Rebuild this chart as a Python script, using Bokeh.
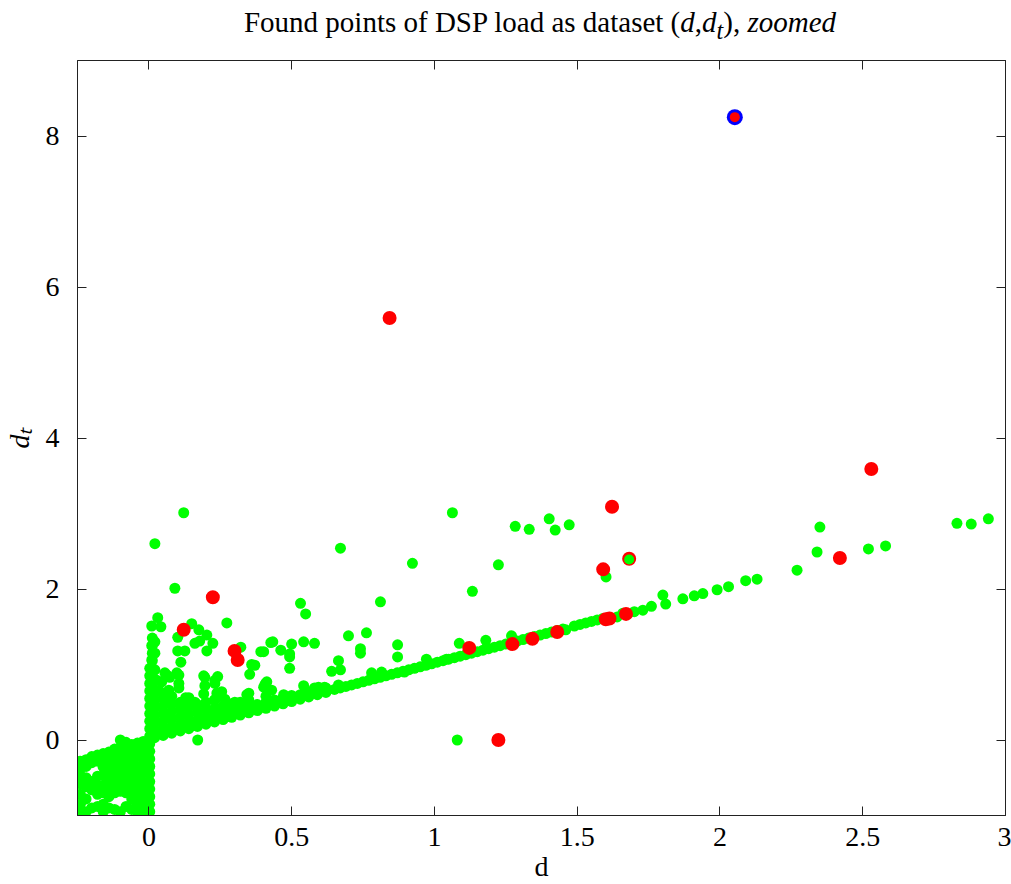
from bokeh.plotting import figure
from bokeh.models import LinearAxis, FixedTicker, Div
from bokeh.layouts import column
from bokeh.embed import file_html
from bokeh.resources import INLINE

# ---------------- data ----------------
x_ticks = [0, 0.5, 1, 1.5, 2, 2.5, 3]
x_tick_labels = ["0", "0.5", "1", "1.5", "2", "2.5", "3"]
y_ticks = [0, 2, 4, 6, 8]
y_tick_labels = ["0", "2", "4", "6", "8"]

title_html = ("Found points of DSP load as dataset (<i>d</i>,<i>d</i><sub><i>t</i></sub>), "
              "<i>zoomed</i>")
x_label = "d"
y_label = "d\u209c"

# dense cluster with d < 0
green_negative = [
    (-0.24, -0.28), (-0.24, -0.38), (-0.24, -0.47), (-0.24, -0.58), (-0.24, -0.72), (-0.24, -0.85), (-0.24, -0.93),
    (-0.22, -0.26), (-0.22, -0.35), (-0.22, -0.50), (-0.22, -0.62), (-0.22, -0.78), (-0.22, -0.95),
    (-0.20, -0.22), (-0.20, -0.30), (-0.20, -0.55), (-0.20, -0.66), (-0.20, -0.90),
    (-0.18, -0.20), (-0.18, -0.28), (-0.18, -0.48), (-0.18, -0.60), (-0.18, -0.72), (-0.18, -0.88),
    (-0.16, -0.18), (-0.16, -0.27), (-0.16, -0.36), (-0.16, -0.47), (-0.16, -0.60), (-0.16, -0.70), (-0.16, -0.85), (-0.16, -0.95),
    (-0.14, -0.16), (-0.14, -0.25), (-0.14, -0.33), (-0.14, -0.45), (-0.14, -0.55), (-0.14, -0.67), (-0.14, -0.75), (-0.14, -0.90),
    (-0.12, -0.12), (-0.12, -0.22), (-0.12, -0.32), (-0.12, -0.42), (-0.12, -0.52), (-0.12, -0.62), (-0.12, -0.70), (-0.12, -0.92),
    (-0.10, 0.00), (-0.10, -0.10), (-0.10, -0.20), (-0.10, -0.30), (-0.10, -0.42), (-0.10, -0.55), (-0.10, -0.68), (-0.10, -0.95),
    (-0.08, -0.03), (-0.08, -0.12), (-0.08, -0.25), (-0.08, -0.38), (-0.08, -0.50), (-0.08, -0.60), (-0.08, -0.70), (-0.08, -0.88),
    (-0.06, -0.06), (-0.06, -0.15), (-0.06, -0.28), (-0.06, -0.40), (-0.06, -0.52), (-0.06, -0.65), (-0.06, -0.78), (-0.06, -0.92),
    (-0.04, -0.04), (-0.04, -0.12), (-0.04, -0.22), (-0.04, -0.35), (-0.04, -0.48), (-0.04, -0.60), (-0.04, -0.72), (-0.04, -0.85), (-0.04, -0.95),
    (-0.02, -0.02), (-0.02, -0.10), (-0.02, -0.20), (-0.02, -0.32), (-0.02, -0.44), (-0.02, -0.56), (-0.02, -0.68), (-0.02, -0.80), (-0.02, -0.93), (-0.02, -0.99),
]

# vertical strip at d = 0
green_strip = [
    (0.003, -0.95), (0.003, -0.85), (0.003, -0.75), (0.003, -0.65), (0.003, -0.55), (0.003, -0.45),
    (0.003, -0.35), (0.003, -0.25), (0.003, -0.15), (0.003, -0.05), (0.003, 0.05), (0.003, 0.15),
    (0.003, 0.25), (0.003, 0.35), (0.003, 0.45), (0.003, 0.55), (0.003, 0.65), (0.003, 0.75),
    (0.003, 0.85), (0.003, 0.95),
    (0.012, 0.05), (0.012, 0.15), (0.012, 0.25), (0.012, 0.35), (0.012, 0.45), (0.012, 0.55),
    (0.012, 0.65), (0.012, 0.75), (0.012, 0.85), (0.012, 0.95), (0.012, 1.05), (0.012, 1.15),
    (0.012, 1.25), (0.012, 1.35),
]

# filled wedge just right of d = 0
green_wedge = [
    (0.02, 0.03), (0.02, 0.12), (0.02, 0.22), (0.02, 0.32), (0.02, 0.42), (0.02, 0.52), (0.02, 0.62),
    (0.05, 0.06), (0.05, 0.15), (0.05, 0.25), (0.05, 0.35), (0.05, 0.45), (0.05, 0.55),
    (0.08, 0.09), (0.08, 0.18), (0.08, 0.28), (0.08, 0.38), (0.08, 0.48), (0.08, 0.58),
    (0.11, 0.12), (0.11, 0.21), (0.11, 0.31), (0.11, 0.41), (0.11, 0.50),
    (0.14, 0.15), (0.14, 0.24), (0.14, 0.34), (0.14, 0.44), (0.14, 0.56),
    (0.17, 0.18), (0.17, 0.27), (0.17, 0.37), (0.17, 0.47),
    (0.20, 0.21), (0.20, 0.30), (0.20, 0.40), (0.20, 0.50),
    (0.23, 0.24), (0.23, 0.33), (0.23, 0.42), (0.23, 0.53),
    (0.26, 0.27), (0.26, 0.36), (0.26, 0.45),
    (0.29, 0.30), (0.29, 0.39), (0.29, 0.48),
    (0.32, 0.33), (0.32, 0.42), (0.32, 0.50),
    (0.35, 0.36), (0.35, 0.44), (0.35, 0.53),
    (0.38, 0.39), (0.38, 0.47),
    (0.41, 0.42), (0.41, 0.50), (0.41, 0.58),
    (0.44, 0.45), (0.44, 0.53),
    (0.47, 0.48), (0.47, 0.56),
    (0.50, 0.51), (0.50, 0.59),
    (0.53, 0.54), (0.53, 0.60),
    (0.56, 0.57), (0.56, 0.64),
    (0.59, 0.60), (0.59, 0.67),
    (0.62, 0.63), (0.62, 0.69),
]

# the main diagonal d_t ~ d
green_line = [
    (0.65, 0.67), (0.67, 0.69), (0.69, 0.71), (0.71, 0.73), (0.73, 0.75), (0.75, 0.77), (0.77, 0.79),
    (0.79, 0.81), (0.81, 0.83), (0.83, 0.85), (0.85, 0.87), (0.87, 0.89), (0.89, 0.91), (0.91, 0.93),
    (0.93, 0.95), (0.95, 0.97), (0.97, 0.99), (0.99, 1.01), (1.01, 1.03), (1.03, 1.05), (1.05, 1.07),
    (1.07, 1.09), (1.09, 1.11), (1.11, 1.13), (1.13, 1.15), (1.15, 1.17), (1.17, 1.19), (1.19, 1.21),
    (1.21, 1.23), (1.23, 1.25), (1.25, 1.27), (1.27, 1.29), (1.29, 1.31), (1.31, 1.33), (1.33, 1.35),
    (1.35, 1.37), (1.37, 1.39), (1.39, 1.41), (1.41, 1.43), (1.43, 1.45), (1.45, 1.47), (1.49, 1.51),
    (1.51, 1.53), (1.53, 1.55), (1.55, 1.57), (1.57, 1.59), (1.59, 1.61), (1.61, 1.62), (1.64, 1.63),
    (1.66, 1.68), (1.70, 1.70), (1.73, 1.72), (1.76, 1.77), (1.80, 1.92), (1.81, 1.80), (1.87, 1.87),
    (1.91, 1.91), (1.94, 1.94), (1.99, 1.99), (2.03, 2.03), (2.09, 2.11), (2.13, 2.13), (2.27, 2.25),
    (2.34, 2.49), (2.35, 2.82), (2.52, 2.53), (2.58, 2.57), (2.83, 2.87), (2.88, 2.86), (2.94, 2.93),
]

# scattered points above the diagonal
green_scatter = [
    (0.021, 2.60), (0.122, 3.01), (0.091, 2.01), (0.273, 1.55), (0.031, 1.62), (0.010, 1.51), (0.042, 1.50),
    (0.150, 1.54), (0.175, 1.46), (0.203, 1.39), (0.101, 1.36), (0.178, 1.31), (0.224, 1.28), (0.161, 1.28),
    (0.203, 1.18), (0.021, 1.30), (0.010, 1.25), (0.021, 1.15), (0.010, 1.06), (0.101, 1.18), (0.126, 1.18),
    (0.112, 1.03), (0.322, 1.23), (0.392, 1.17), (0.427, 1.29), (0.371, 0.99), (0.353, 0.87), (0.021, 0.93),
    (0.063, 0.86), (0.105, 0.86), (0.192, 0.85), (0.241, 0.84), (0.010, 0.79), (0.045, 0.77), (0.105, 0.75),
    (0.196, 0.72), (0.231, 0.75), (0.409, 0.75), (0.255, 0.64), (0.070, 0.66), (0.105, 0.69), (0.192, 0.61),
    (0.133, 0.54), (0.161, 0.50), (0.231, 0.53), (0.248, 0.62), (0.297, 0.44), (0.350, 0.62), (0.406, 0.73),
    (0.171, 0.00), (0.266, 0.54), (0.238, 0.56), (0.196, 0.83), (0.231, 0.79), (0.238, 0.62), (0.129, 0.56),
    (0.098, 0.89), (0.073, 0.83), (0.056, 0.89), (0.035, 0.66), (0.028, 0.79), (0.063, 0.62), (0.360, 1.00),
    (0.615, 0.70), (0.580, 0.69), (0.402, 0.70), (0.343, 0.60), (0.301, 0.50),
    (0.531, 1.81), (0.549, 1.67), (0.811, 1.83), (0.923, 2.34), (0.434, 1.30), (0.462, 1.19), (0.493, 1.14),
    (0.493, 1.10), (0.500, 1.27), (0.542, 1.30), (0.580, 1.28), (0.493, 0.95), (0.699, 1.38), (0.762, 1.42),
    (0.741, 1.21), (0.741, 1.15), (0.871, 1.26), (0.871, 1.10), (0.664, 1.05), (0.640, 0.91), (0.671, 0.93),
    (0.402, 1.17), (1.087, 1.28), (1.080, 0.00), (0.671, 2.54), (0.972, 1.07), (0.780, 0.89), (0.815, 0.90),
    (0.895, 0.90), (1.042, 1.07), (0.542, 0.72), (0.472, 0.60), (0.664, 0.73), (0.594, 0.70), (0.413, 0.77),
    (0.430, 0.66), (1.063, 3.01), (1.283, 2.83), (1.332, 2.79), (1.402, 2.93), (1.423, 2.78), (1.472, 2.85),
    (1.224, 2.32), (1.133, 1.97), (1.601, 2.16), (1.180, 1.32), (1.270, 1.38), (1.460, 1.46),
]

red_points = [
    (0.122, 1.46), (0.224, 1.89), (0.300, 1.18), (0.311, 1.06), (0.843, 5.59), (1.122, 1.22),
    (1.224, 0.00), (1.273, 1.27), (1.343, 1.34), (1.430, 1.43), (1.591, 2.26), (1.600, 1.60),
    (1.613, 1.61), (1.622, 3.09), (1.671, 1.67), (1.682, 2.40), (2.420, 2.41), (2.530, 3.59),
]
green_on_top = [(1.682, 2.39)]
best_point = [(2.052, 8.25)]

# ---------------- layout ----------------
FONT = "Liberation Serif"
TITLE_H = 44

title_div = Div(text=title_html, width=1011, height=TITLE_H, margin=(0, 0, 0, 0),
                styles={"font-family": FONT, "font-size": "29px", "color": "black",
                        "text-align": "center", "line-height": f"{TITLE_H}px",
                        "width": "1011px", "box-sizing": "border-box",
                        "padding-left": "69px", "white-space": "nowrap"})

p = figure(width=1011, height=884 - TITLE_H, x_range=(-0.25, 3.0), y_range=(-1, 9),
           output_backend="svg", toolbar_location=None, margin=(0, 0, 0, 0),
           min_border_left=76, min_border_right=6, min_border_top=60 - TITLE_H,
           min_border_bottom=68)
p.background_fill_color = "white"
p.border_fill_color = "white"
p.outline_line_color = "#222222"
p.outline_line_width = 1
p.grid.visible = False


def style_axis(ax, ticks, labels, show_labels=True):
    ax.ticker = FixedTicker(ticks=ticks)
    ax.major_tick_in = 9
    ax.major_tick_out = 0
    ax.minor_tick_line_color = None
    ax.axis_line_color = "#222222"
    ax.major_tick_line_color = "#222222"
    ax.major_label_text_font = FONT
    ax.major_label_text_font_size = "28px"
    if show_labels:
        ax.major_label_overrides = {t: l for t, l in zip(ticks, labels)}
        ax.major_label_text_color = "black"
    else:
        ax.major_label_overrides = {t: "" for t in ticks}
        ax.major_label_text_color = None
        ax.major_label_standoff = 0


style_axis(p.xaxis[0], x_ticks, x_tick_labels)
p.xaxis[0].major_label_standoff = 12
p.xaxis[0].axis_label = x_label
p.xaxis[0].axis_label_text_font = FONT
p.xaxis[0].axis_label_text_font_size = "28px"
p.xaxis[0].axis_label_text_font_style = "normal"
p.xaxis[0].axis_label_text_color = "black"
p.xaxis[0].axis_label_standoff = 2

style_axis(p.yaxis[0], y_ticks, y_tick_labels)
p.yaxis[0].major_label_standoff = 18
p.yaxis[0].axis_label = y_label
p.yaxis[0].axis_label_text_font = FONT
p.yaxis[0].axis_label_text_font_size = "28px"
p.yaxis[0].axis_label_text_font_style = "italic"
p.yaxis[0].axis_label_text_color = "black"
p.yaxis[0].axis_label_standoff = 8

top_axis = LinearAxis()
style_axis(top_axis, x_ticks, x_tick_labels, show_labels=False)
p.add_layout(top_axis, "above")
right_axis = LinearAxis()
style_axis(right_axis, y_ticks, y_tick_labels, show_labels=False)
p.add_layout(right_axis, "right")

GREEN = "#00ff00"
RED = "#ff0000"
BLUE = "#0000ff"

for grp in (green_negative, green_strip, green_wedge, green_line, green_scatter):
    p.scatter([q[0] for q in grp], [q[1] for q in grp], size=11,
              fill_color=GREEN, line_color=None)
p.scatter([q[0] for q in red_points], [q[1] for q in red_points], size=14,
          fill_color=RED, line_color=None)
p.scatter([q[0] for q in green_on_top], [q[1] for q in green_on_top], size=10,
          fill_color=GREEN, line_color=None)
p.scatter([q[0] for q in best_point], [q[1] for q in best_point], size=16,
          fill_color=BLUE, line_color=None)
p.scatter([q[0] for q in best_point], [q[1] for q in best_point], size=10,
          fill_color=RED, line_color=None)

layout = column(title_div, p, spacing=0, margin=(0, 0, 0, 0))
open("out.html", "w").write(file_html(layout, INLINE))
